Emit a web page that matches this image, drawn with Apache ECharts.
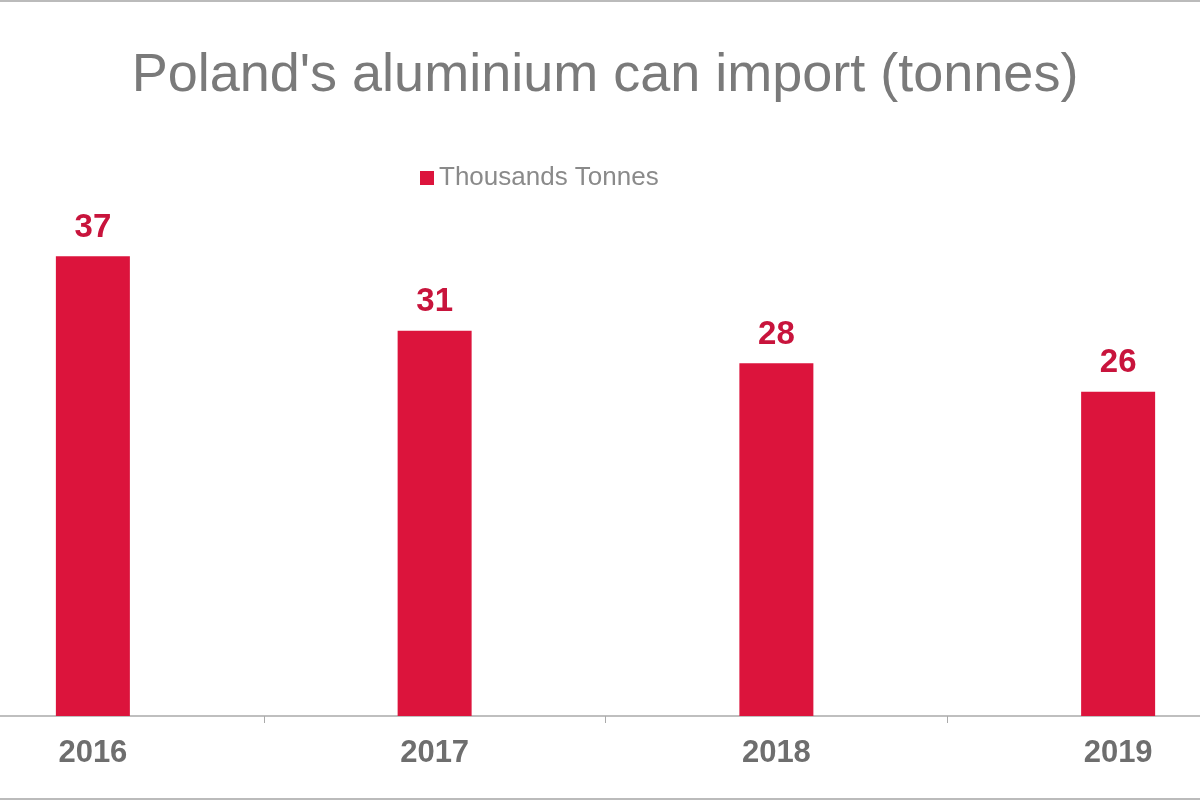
<!DOCTYPE html>
<html><head><meta charset="utf-8">
<script src="https://cdn.jsdelivr.net/npm/echarts@6/dist/echarts.min.js"></script>
<style>html,body{margin:0;padding:0;background:#fff;overflow:hidden}
#w{width:1200px;height:800px;overflow:hidden;position:relative;box-sizing:border-box;border-top:2px solid #bbb;border-bottom:2px solid #bbb}
#c{position:absolute;left:-78px;top:-2px;width:1367px;height:800px}</style>
</head><body><div id="w"><div id="c"></div></div>
<script>
const categories = ['2016', '2017', '2018', '2019'];
const values = [37.0, 31.0, 28.4, 26.1];
const seriesName = 'Thousands Tonnes';
const chart = echarts.init(document.getElementById('c'));
chart.setOption({
  backgroundColor: '#fff',
  title: { text: "Poland's aluminium can import (tonnes)", left: 678, textAlign: 'center', top: 44,
    textStyle: { fontFamily: 'Liberation Sans', fontSize: 54, fontWeight: 'normal', color: '#7a7a7a' } },
  legend: { top: 160, left: 493, itemWidth: 14, itemHeight: 14, icon: 'rect',
    textStyle: { fontFamily: 'Liberation Sans', fontSize: 26, color: '#8a8a8a' } },
  grid: { left: 0, right: 0, top: 219, bottom: 84 },
  xAxis: { type: 'category', data: categories,
    axisLine: { lineStyle: { color: '#aaa', width: 1.5 } },
    axisTick: { show: true, length: 7, lineStyle: { color: '#aaa' } },
    axisLabel: { margin: 22, fontFamily: 'Liberation Sans', fontSize: 31, fontWeight: 'bold', color: '#6e6e6e' } },
  yAxis: { type: 'value', min: 0, max: 40, show: false, splitLine: { show: false } },
  series: [{ name: seriesName, type: 'bar', data: values, barWidth: 74,
    itemStyle: { color: '#dc143c' },
    label: { show: true, position: 'top', distance: 12, formatter: p => Math.round(p.value),
      fontFamily: 'Liberation Sans', fontSize: 33, fontWeight: 'bold', color: '#c8143c' } }]
});
</script></body></html>
